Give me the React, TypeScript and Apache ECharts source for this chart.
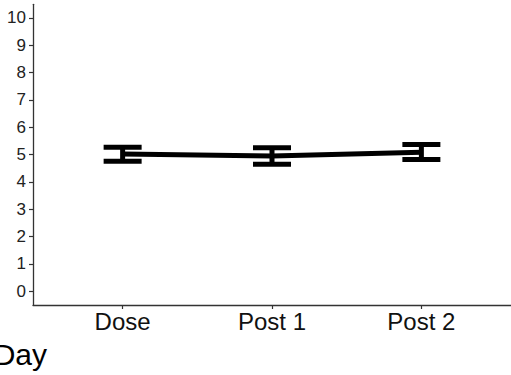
import React, { useEffect, useRef } from "react";
import * as echarts from "echarts";

// Day labels and summary values (mean with lower/upper error limits)
const categories = ["Dose", "Post 1", "Post 2"];
const means = [5.02, 4.95, 5.09];
const lowers = [4.76, 4.65, 4.82];
const uppers = [5.27, 5.25, 5.37];
const yTicks = [0, 1, 2, 3, 4, 5, 6, 7, 8, 9, 10];
const xTicks = [1, 2, 3];

const FONT = "'Liberation Sans', Arial, sans-serif";

export default function App() {
  const ref = useRef<HTMLDivElement>(null);

  useEffect(() => {
    if (!ref.current) return;
    const chart = echarts.init(ref.current, undefined, { renderer: "svg" });

    const lineData = categories.map((_, i) => [i + 1, means[i]]);
    const barData = categories.map((_, i) => [i + 1, lowers[i], uppers[i]]);

    chart.setOption({
      animation: false,
      grid: { left: 33, top: 4.3, width: 480, height: 300.7, containLabel: false },
      xAxis: {
        type: "value",
        min: 0.4,
        max: 3.6,
        splitLine: { show: false },
        axisLine: { show: true, onZero: false, lineStyle: { color: "#333", width: 1.3 } },
        axisTick: {
          show: true,
          customValues: xTicks,
          length: 4,
          lineStyle: { color: "#333", width: 1.2 },
        },
        axisLabel: {
          customValues: xTicks,
          formatter: (v: number) => categories[Math.round(v) - 1] ?? "",
          color: "#111",
          fontFamily: FONT,
          fontSize: 24,
          margin: 4,
        },
      },
      yAxis: {
        type: "value",
        min: -0.5,
        max: 10.5,
        splitLine: { show: false },
        axisLine: { show: true, onZero: false, lineStyle: { color: "#333", width: 1.3 } },
        axisTick: {
          show: true,
          customValues: yTicks,
          length: 4,
          lineStyle: { color: "#333", width: 1.2 },
        },
        axisLabel: {
          customValues: yTicks,
          color: "#222",
          fontFamily: FONT,
          fontSize: 17,
          margin: 7,
        },
      },
      series: [
        {
          type: "line",
          data: lineData,
          showSymbol: false,
          symbol: "none",
          lineStyle: { color: "#000", width: 5 },
          z: 2,
        },
        {
          type: "custom",
          data: barData,
          z: 3,
          renderItem: (_params: any, api: any) => {
            const x = api.value(0);
            const lo = api.coord([x, api.value(1)]);
            const hi = api.coord([x, api.value(2)]);
            const half = 19;
            const style = { stroke: "#000", lineWidth: 5 };
            return {
              type: "group",
              children: [
                { type: "line", shape: { x1: lo[0], y1: lo[1], x2: hi[0], y2: hi[1] }, style },
                { type: "line", shape: { x1: hi[0] - half, y1: hi[1], x2: hi[0] + half, y2: hi[1] }, style },
                { type: "line", shape: { x1: lo[0] - half, y1: lo[1], x2: lo[0] + half, y2: lo[1] }, style },
              ],
            };
          },
        },
      ],
      graphic: [
        {
          type: "text",
          style: {
            text: "Day",
            x: 47,
            y: 354,
            textAlign: "right",
            textVerticalAlign: "middle",
            font: `30px ${FONT}`,
            fill: "#000",
          },
        },
      ],
    });

    return () => chart.dispose();
  }, []);

  return (
    <div
      ref={ref}
      style={{ position: "fixed", left: 0, top: 0, width: 511, height: 375, background: "#fff" }}
    />
  );
}
